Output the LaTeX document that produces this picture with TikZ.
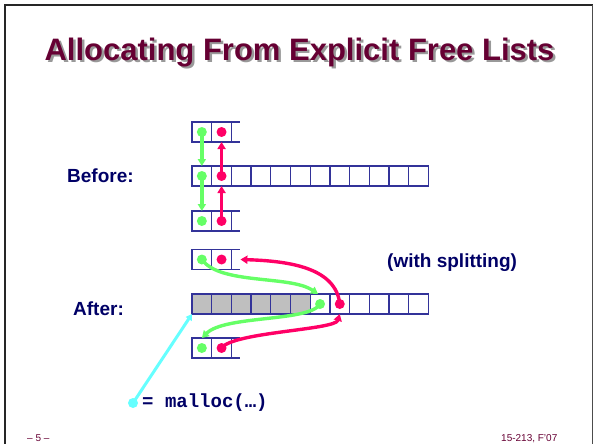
\documentclass[tikz,border=0pt]{standalone}
\usepackage{fontspec}
\setmainfont{Liberation Sans}
\newfontfamily\codefont{Liberation Mono}
\usetikzlibrary{positioning,arrows.meta}

\definecolor{titlered}{HTML}{660033}
\definecolor{navy}{HTML}{000066}
\definecolor{cellblue}{HTML}{333399}
\definecolor{ptrgreen}{HTML}{66FF66}
\definecolor{ptrred}{HTML}{FF0066}
\definecolor{ptrcyan}{HTML}{66FFFF}

\newcommand{\shadowtext}[1]{\makebox[0pt][l]{\hspace{2.5pt}\raisebox{-2.5pt}{\textcolor{black!40}{#1}}}#1}

\tikzset{
  cell/.style={draw=cellblue, line width=1.3pt, minimum width=19.7pt, minimum height=20pt, inner sep=0pt, outer sep=0pt},
  used/.style={cell, fill=black!25},
  stub/.style={draw=cellblue, line width=1.3pt},
  dot/.style={circle, inner sep=0pt, minimum size=10pt},
  gdot/.style={dot, fill=ptrgreen},
  rdot/.style={dot, fill=ptrred},
  cdot/.style={dot, fill=ptrcyan},
  gptr/.style={draw=ptrgreen, line width=3.4pt, -{Triangle[length=7pt,width=8pt]}},
  rptr/.style={draw=ptrred, line width=3.4pt, -{Triangle[length=7pt,width=8pt]}},
  lbl/.style={font=\bfseries\fontsize{19}{22}\selectfont, text=navy, inner sep=0pt, anchor=base west},
  foot/.style={font=\fontsize{10}{12}\selectfont, text=titlered, inner sep=0pt, anchor=base west}
}

\begin{document}
\begin{tikzpicture}[x=1pt,y=-1pt]
  \useasboundingbox (0,0) rectangle (594,444);
  % Frame
  \draw[black!85, line width=2.2pt] (5,446) -- (5,5) -- (592.5,5);
  \draw[black!70, line width=1pt] (592.5,5) -- (592.5,446);

  % Title
  \node[font=\bfseries\fontsize{31}{36}\selectfont, text=titlered, inner sep=0pt, anchor=base] (title) at (299.5,60) {\shadowtext{Allocating From Explicit Free Lists}};

  % Labels
  \node[lbl] (before) at (67,182) {Before:};
  \node[lbl] (after) at (73,315) {After:};
  \node[lbl] (split) at (387,267) {(with splitting)};

  % Before: blocks
  \node[cell] (bt1) at (201.85,132) {};
  \node[cell, right=0pt of bt1] (bt2) {};
  \draw[stub] (bt2.north east) -- ++(9,0) (bt2.south east) -- ++(9,0);
  \node[cell] (bm1) at (201.85,176) {};
  \foreach \i [count=\j from 2] in {1,...,11}
    \node[cell, right=0pt of bm\i] (bm\j) {};
  \node[cell] (bb1) at (201.85,221) {};
  \node[cell, right=0pt of bb1] (bb2) {};
  \draw[stub] (bb2.north east) -- ++(9,0) (bb2.south east) -- ++(9,0);

  % Before: pointers
  \node[gdot] (btg) at (bt1) {};
  \node[rdot] (btr) at (bt2) {};
  \node[gdot] (bmg) at (bm1) {};
  \node[rdot] (bmr) at (bm2) {};
  \node[gdot] (bbg) at (bb1) {};
  \node[rdot] (bbr) at (bb2) {};
  \draw[gptr] (btg.center) -- (bm1.north);
  \draw[gptr] (bmg.center) -- (bb1.north);
  \draw[rptr] (bmr.center) -- (bt2.south);
  \draw[rptr] (bbr.center) -- (bm2.south);

  % After: blocks
  \node[cell] (at1) at (201.85,259.5) {};
  \node[cell, right=0pt of at1] (at2) {};
  \draw[stub] (at2.north east) -- ++(9,0) (at2.south east) -- ++(9,0);
  \coordinate (atend) at ([xshift=9pt]at2.east);
  \node[used] (am1) at (201.85,304) {};
  \foreach \i [count=\j from 2] in {1,...,5}
    \node[used, right=0pt of am\i] (am\j) {};
  \foreach \i [count=\j from 7] in {6,...,11}
    \node[cell, right=0pt of am\i] (am\j) {};
  \node[cell] (ab1) at (201.85,348) {};
  \node[cell, right=0pt of ab1] (ab2) {};
  \draw[stub] (ab2.north east) -- ++(9,0) (ab2.south east) -- ++(9,0);

  % After: pointers
  \node[gdot] (atg) at (at1) {};
  \node[rdot] (atr) at (at2) {};
  \node[gdot] (amg) at (am7) {};
  \node[rdot] (amr) at (am8) {};
  \node[gdot] (abg) at (ab1) {};
  \node[rdot] (abr) at (ab2) {};
  \draw[gptr] (atg.center) .. controls (220,285) and (290,275) .. ([xshift=-2pt]am7.north);
  \draw[rptr] (amr.center) .. controls (336,268) and (290,261) .. (atend);
  \draw[gptr] (amg.center) .. controls (310,322) and (225,315) .. (ab1.north);
  \draw[rptr] (abr.center) .. controls (233,332) and (335,330) .. (am8.south);

  % malloc
  \node[cdot] (mdot) at (133,403) {};
  \draw[draw=ptrcyan, line width=3pt, -{Triangle[length=6pt,width=7pt]}] (mdot.center) -- (am1.south west);
  \node[font=\codefont\bfseries\fontsize{19}{22}\selectfont, text=navy, inner sep=0pt, anchor=west] (malloc) at (142,403) {= malloc(…)};

  % Footer
  \node[foot] (page) at (27,441) {– 5 –};
  \node[foot] (course) at (501,441) {15-213, F'07};
\end{tikzpicture}
\end{document}
